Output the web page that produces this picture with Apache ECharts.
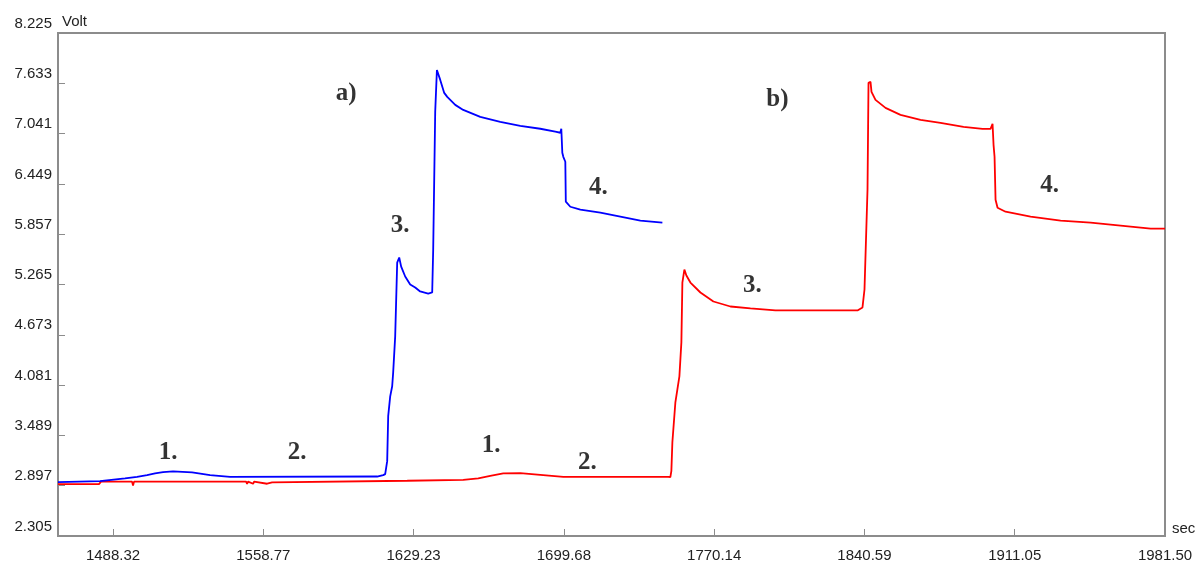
<!DOCTYPE html>
<html>
<head>
<meta charset="utf-8">
<script src="https://cdn.jsdelivr.net/npm/echarts@6/dist/echarts.min.js"></script>
<style>
html,body{margin:0;padding:0;background:#fff;}
#chart{width:1199px;height:563px;}
</style>
</head>
<body>
<div id="chart"></div>
<script>
// ---- Data ----
var xTicks = [1488.32, 1558.77, 1629.23, 1699.68, 1770.14, 1840.59, 1911.05, 1981.50];
var yTicks = [2.305, 2.897, 3.489, 4.081, 4.673, 5.265, 5.857, 6.449, 7.041, 7.633, 8.225];
var xMin = 1462.52, xMax = 1981.50;

// Curve a) (blue)
var blueX = [1462.52, 1482.22, 1493.95, 1499.58, 1504.27, 1508.02, 1511.77, 1516.46, 1525.38, 1533.82, 1543.20, 1612.16,
  1614.97, 1615.91, 1616.85, 1617.32, 1618.26, 1619.19, 1619.66, 1620.60, 1621.54, 1622.48, 1623.41, 1625.29, 1627.63,
  1629.98, 1632.32, 1636.08, 1637.95, 1638.42, 1639.36, 1640.16, 1640.78, 1641.72, 1643.59, 1645.00, 1648.75, 1652.50,
  1660.48, 1669.86, 1679.24, 1688.62, 1695.66, 1698.01, 1698.48, 1698.95, 1699.42, 1700.36, 1700.59, 1701.30, 1702.71,
  1707.40, 1716.78, 1726.16, 1735.54, 1745.86];
var blueY = [2.939, 2.951, 2.983, 3.002, 3.021, 3.041, 3.057, 3.065, 3.053, 3.021, 3.002, 3.005,
  3.021, 3.033, 3.186, 3.715, 3.949, 4.067, 4.231, 4.654, 5.523, 5.582, 5.476, 5.359, 5.265,
  5.230, 5.183, 5.159, 5.171, 5.676, 7.297, 7.790, 7.767, 7.673, 7.520, 7.473, 7.379, 7.320,
  7.238, 7.180, 7.133, 7.098, 7.063, 7.051, 7.098, 6.815, 6.768, 6.710, 6.240, 6.228, 6.180,
  6.146, 6.110, 6.063, 6.016, 5.993];

// Curve b) (red)
var redX = [1462.52, 1481.75, 1482.69, 1497.23, 1497.70, 1498.17, 1550.70, 1551.17, 1551.64, 1553.99, 1554.46, 1560.56,
  1562.90, 1626.23, 1652.50, 1659.54, 1665.16, 1671.26, 1679.24, 1688.62, 1699.42, 1748.67, 1749.61, 1750.08, 1750.55,
  1751.96, 1752.90, 1753.84, 1754.77, 1755.24, 1756.18, 1757.12, 1759.00, 1763.69, 1769.79, 1777.76, 1787.14, 1798.87,
  1837.34, 1839.68, 1840.62, 1842.03, 1842.50, 1843.44, 1843.90, 1845.78, 1850.47, 1857.50, 1866.88, 1876.26, 1887.05,
  1895.96, 1899.71, 1900.65, 1901.12, 1901.59, 1902.06, 1903.00, 1906.75, 1918.48, 1932.55, 1946.62, 1956.00, 1965.38,
  1974.76, 1981.50];
var redY = [2.916, 2.916, 2.945, 2.945, 2.900, 2.945, 2.945, 2.920, 2.945, 2.920, 2.945, 2.920,
  2.935, 2.955, 2.966, 2.983, 3.013, 3.041, 3.045, 3.025, 3.002, 3.002, 2.998, 3.072, 3.409,
  3.879, 4.032, 4.184, 4.584, 5.288, 5.441, 5.371, 5.288, 5.171, 5.065, 5.006, 4.983, 4.960,
  4.960, 4.995, 5.206, 6.381, 7.638, 7.649, 7.532, 7.438, 7.344, 7.262, 7.203, 7.168, 7.120,
  7.097, 7.097, 7.156, 6.909, 6.768, 6.263, 6.169, 6.122, 6.063, 6.016, 5.993, 5.969, 5.945,
  5.922, 5.922];

// Text annotations (data coordinates)
var annotText = ['a)', 'b)', '1.', '2.', '3.', '4.', '1.', '2.', '3.', '4.'];
var annotX = [1597.61, 1799.78, 1514.12, 1574.63, 1622.95, 1715.82, 1665.63, 1710.66, 1788.05, 1927.37];
var annotY = [7.508, 7.438, 3.292, 3.292, 5.958, 6.404, 3.374, 3.174, 5.253, 6.428];

// ---- Build ----
function zip(xs, ys) { return xs.map(function (x, i) { return [x, ys[i]]; }); }
var annotData = annotText.map(function (t, i) { return { name: t, value: [annotX[i], annotY[i]] }; });

var axisGrey = '#8c8c8c';
var labelFont = { color: '#222', fontFamily: 'Liberation Sans, Arial, sans-serif', fontSize: 15 };

var chart = echarts.init(document.getElementById('chart'), null, { renderer: 'canvas' });
chart.setOption({
  animation: false,
  grid: { left: 58, top: 33, right: 34, bottom: 26, show: true, borderColor: axisGrey, borderWidth: 2, backgroundColor: '#fff' },
  xAxis: {
    type: 'value', min: xMin, max: xMax,
    name: 'sec', nameLocation: 'end', nameGap: 7,
    nameTextStyle: Object.assign({}, labelFont, { align: 'left', verticalAlign: 'bottom', padding: [0, 0, 0, 0] }),
    axisLine: { show: true, lineStyle: { color: axisGrey, width: 2 } },
    axisTick: { show: true, inside: true, length: 7, lineStyle: { color: axisGrey, width: 1 }, customValues: xTicks },
    axisLabel: Object.assign({}, labelFont, { margin: 12, customValues: xTicks, formatter: function (v) { return v.toFixed(2); } }),
    splitLine: { show: false }
  },
  yAxis: {
    type: 'value', min: yTicks[0], max: yTicks[yTicks.length - 1],
    name: 'Volt', nameLocation: 'end', nameGap: 11,
    nameTextStyle: Object.assign({}, labelFont, { align: 'left', verticalAlign: 'middle', padding: [0, 0, 0, 4] }),
    axisLine: { show: true, lineStyle: { color: axisGrey, width: 2 } },
    axisTick: { show: true, inside: true, length: 7, lineStyle: { color: axisGrey, width: 1 }, customValues: yTicks },
    axisLabel: Object.assign({}, labelFont, { margin: 6, verticalAlign: 'bottom', padding: [0, 0, 2, 0], customValues: yTicks, formatter: function (v) { return v.toFixed(3); } }),
    splitLine: { show: false }
  },
  series: [
    { name: 'b)', type: 'line', data: zip(redX, redY), showSymbol: false, symbol: 'none',
      lineStyle: { color: '#ff0000', width: 1.8 }, z: 2 },
    { name: 'a)', type: 'line', data: zip(blueX, blueY), showSymbol: false, symbol: 'none',
      lineStyle: { color: '#0000ff', width: 1.8 }, z: 3 },
    { name: 'labels', type: 'scatter', data: annotData, symbolSize: 0, silent: true, z: 4,
      label: { show: true, position: 'inside', formatter: function (p) { return p.name; },
        color: '#000', fontFamily: 'Liberation Serif, Times New Roman, serif', fontWeight: 'bold', fontSize: 25 } }
  ]
});
</script>
</body>
</html>
